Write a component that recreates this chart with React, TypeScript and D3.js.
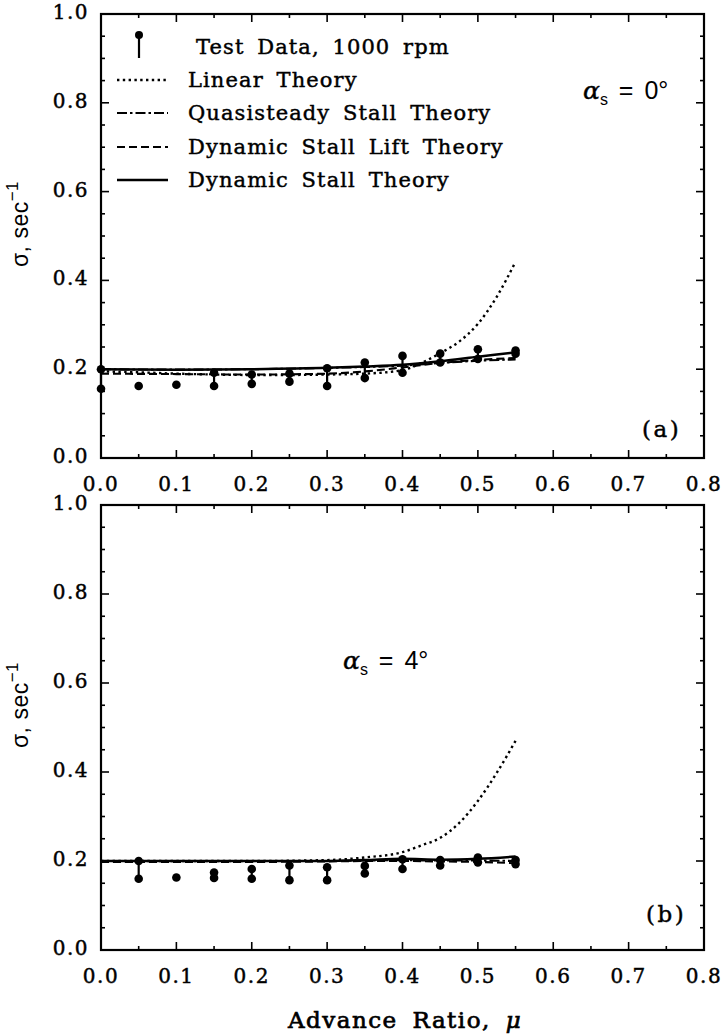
import React from "react";
import * as d3 from "d3";

// ---------- data ----------
const xTicksMajor = [0, 0.1, 0.2, 0.3, 0.4, 0.5, 0.6, 0.7, 0.8];
const yTicksMajor = [0, 0.2, 0.4, 0.6, 0.8, 1.0];

// Panel (a) alpha_s = 0 deg
const muTestA = [0, 0.05, 0.1, 0.15, 0.2, 0.25, 0.3, 0.35, 0.4, 0.45, 0.5, 0.55];
const testHighA = [0.2, 0.162, 0.165, 0.192, 0.188, 0.19, 0.202, 0.215, 0.23, 0.235, 0.245, 0.242];
const testLowA = [0.156, 0.162, 0.165, 0.162, 0.167, 0.172, 0.162, 0.18, 0.192, 0.215, 0.223, 0.235];

const muLinA = [0, 0.05, 0.1, 0.15, 0.2, 0.25, 0.3, 0.35, 0.4, 0.425, 0.45, 0.475, 0.5, 0.525, 0.55];
const linA = [0.195, 0.193, 0.19, 0.188, 0.187, 0.187, 0.188, 0.19, 0.198, 0.214, 0.236, 0.262, 0.302, 0.363, 0.442];
const muThA = [0, 0.1, 0.2, 0.3, 0.35, 0.4, 0.45, 0.5, 0.55];
const quasiA = [0.2, 0.199, 0.2, 0.203, 0.205, 0.208, 0.214, 0.219, 0.222];
const dynLiftA = [0.19, 0.189, 0.188, 0.19, 0.195, 0.204, 0.214, 0.221, 0.225];
const dynStallA = [0.2, 0.199, 0.2, 0.203, 0.206, 0.21, 0.218, 0.228, 0.238];

// Panel (b) alpha_s = 4 deg
const muTestB = [0.05, 0.1, 0.15, 0.2, 0.25, 0.3, 0.35, 0.4, 0.45, 0.5, 0.55];
const testHighB = [0.2, 0.163, 0.174, 0.182, 0.19, 0.186, 0.189, 0.204, 0.202, 0.208, 0.202];
const testLowB = [0.16, 0.163, 0.162, 0.16, 0.157, 0.157, 0.172, 0.182, 0.19, 0.197, 0.193];

const muLinB = [0, 0.1, 0.2, 0.3, 0.35, 0.4, 0.425, 0.45, 0.475, 0.5, 0.525, 0.55];
const linB = [0.2, 0.2, 0.2, 0.202, 0.208, 0.22, 0.235, 0.252, 0.285, 0.335, 0.398, 0.47];
const muThB = [0, 0.1, 0.2, 0.3, 0.35, 0.4, 0.45, 0.5, 0.55];
const quasiB = [0.2, 0.2, 0.2, 0.2, 0.201, 0.202, 0.201, 0.201, 0.2];
const dynLiftB = [0.198, 0.198, 0.198, 0.199, 0.2, 0.2, 0.199, 0.198, 0.195];
const dynStallB = [0.2, 0.2, 0.2, 0.2, 0.202, 0.205, 0.203, 0.205, 0.21];

const legendLabels = [
  "Test Data, 1000 rpm",
  "Linear Theory",
  "Quasisteady Stall Theory",
  "Dynamic Stall Lift Theory",
  "Dynamic Stall Theory",
];

// ---------- styles ----------
const SERIF = "'DejaVu Serif', serif";
const SANS = "'Liberation Sans', Arial, sans-serif";
const STYLES = {
  linear: { dash: "2.4,3.4", width: 2.4 },
  quasi: { dash: "10,3,2.5,3", width: 2.1 },
  dynLift: { dash: "8,4", width: 2.1 },
  dynStall: { dash: null as string | null, width: 2.5 },
};
const heavy = { stroke: "#000", strokeWidth: 0.45 };

const X0 = 101;
const X1 = 704;

function Panel({
  top, bottom, muTest, hi, lo, series, alphaLabel, alphaPos, tag, yTitleCenter,
}: any) {
  const x = d3.scaleLinear().domain([0, 0.8]).range([X0, X1]);
  const y = d3.scaleLinear().domain([0, 1]).range([bottom, top]);
  const minorX = d3.range(0, 0.801, 0.05);
  const minorY = d3.range(0, 1.001, 0.05);
  const isMajX = (v: number) => Math.abs(v * 10 - Math.round(v * 10)) < 1e-6;
  const isMajY = (v: number) => Math.abs(v * 5 - Math.round(v * 5)) < 1e-6;
  const line = d3
    .line<[number, number]>()
    .x((d) => x(d[0]))
    .y((d) => y(d[1]))
    .curve(d3.curveMonotoneX);
  return (
    <g>
      {series.map((s: any, i: number) => (
        <path
          key={i}
          d={line(s.mu.map((m: number, j: number) => [m, s.v[j]]) as any) || ""}
          fill="none"
          stroke="#000"
          strokeWidth={s.style.width}
          strokeDasharray={s.style.dash || undefined}
        />
      ))}
      {muTest.map((m: number, i: number) => (
        <g key={"t" + i}>
          {hi[i] !== lo[i] && (
            <line x1={x(m)} x2={x(m)} y1={y(hi[i])} y2={y(lo[i])} stroke="#000" strokeWidth={2.2} />
          )}
          <circle cx={x(m)} cy={y(hi[i])} r={4.3} fill="#000" />
          {hi[i] !== lo[i] && <circle cx={x(m)} cy={y(lo[i])} r={4.3} fill="#000" />}
        </g>
      ))}
      <rect x={X0} y={top} width={X1 - X0} height={bottom - top} fill="none" stroke="#000" strokeWidth={2.2} />
      {minorX.map((v, i) => {
        const len = isMajX(v) ? 8 : 4;
        return (
          <g key={"xt" + i}>
            <line x1={x(v)} x2={x(v)} y1={bottom} y2={bottom - len} stroke="#000" strokeWidth={1.6} />
            <line x1={x(v)} x2={x(v)} y1={top} y2={top + len} stroke="#000" strokeWidth={1.6} />
          </g>
        );
      })}
      {minorY.map((v, i) => {
        const len = isMajY(v) ? 8 : 4;
        return (
          <g key={"yt" + i}>
            <line x1={X0} x2={X0 + len} y1={y(v)} y2={y(v)} stroke="#000" strokeWidth={1.6} />
            <line x1={X1} x2={X1 - len} y1={y(v)} y2={y(v)} stroke="#000" strokeWidth={1.6} />
          </g>
        );
      })}
      {xTicksMajor.map((v, i) => (
        <text key={"xl" + i} x={x(v)} y={bottom + 33} textAnchor="middle" fontFamily={SERIF} fontSize={20} letterSpacing={1.5} {...heavy}>
          {v.toFixed(1)}
        </text>
      ))}
      {yTicksMajor.map((v, i) => (
        <text key={"yl" + i} x={89} y={y(v) + 5} textAnchor="end" fontFamily={SERIF} fontSize={20} letterSpacing={1.5} {...heavy}>
          {v.toFixed(1)}
        </text>
      ))}
      <text
        transform={`translate(28, ${yTitleCenter}) rotate(-90)`}
        textAnchor="middle"
        fontFamily={SANS}
        fontSize={23}
        letterSpacing={0.5}
      >
        σ, sec
        <tspan dy={-10} fontSize={17}>−1</tspan>
      </text>
      <text x={alphaPos[0]} y={alphaPos[1]} fontFamily={SERIF} fontSize={25}>
        <tspan fontStyle="italic" {...heavy}>α</tspan>
        <tspan dy={6} fontSize={16} fontFamily={SANS}>s</tspan>
        <tspan dy={-6} fontFamily={SANS} fontSize={25} wordSpacing={4}> = {alphaLabel}°</tspan>
      </text>
      <text x={tag.x} y={tag.y} fontFamily={SERIF} fontSize={23} letterSpacing={2.5} {...heavy}>
        {tag.label}
      </text>
    </g>
  );
}

export default function App() {
  const seriesA = [
    { mu: muLinA, v: linA, style: STYLES.linear },
    { mu: muThA, v: quasiA, style: STYLES.quasi },
    { mu: muThA, v: dynLiftA, style: STYLES.dynLift },
    { mu: muThA, v: dynStallA, style: STYLES.dynStall },
  ];
  const seriesB = [
    { mu: muLinB, v: linB, style: STYLES.linear },
    { mu: muThB, v: quasiB, style: STYLES.quasi },
    { mu: muThB, v: dynLiftB, style: STYLES.dynLift },
    { mu: muThB, v: dynStallB, style: STYLES.dynStall },
  ];
  const legendStyles = [null, STYLES.linear, STYLES.quasi, STYLES.dynLift, STYLES.dynStall];
  const legendY = [54, 87, 120, 154, 187];
  return (
    <svg
      width={727}
      height={1034}
      viewBox="0 0 727 1034"
      style={{ position: "absolute", left: 0, top: 0, background: "#fff" }}
    >
      <rect x={0} y={0} width={727} height={1034} fill="#fff" />
      <Panel
        top={14}
        bottom={458}
        muTest={muTestA}
        hi={testHighA}
        lo={testLowA}
        series={seriesA}
        alphaLabel="0"
        alphaPos={[583, 99]}
        tag={{ x: 642, y: 437, label: "(a)" }}
        yTitleCenter={224}
      />
      <Panel
        top={505}
        bottom={950}
        muTest={muTestB}
        hi={testHighB}
        lo={testLowB}
        series={seriesB}
        alphaLabel="4"
        alphaPos={[343, 669]}
        tag={{ x: 646, y: 922, label: "(b)" }}
        yTitleCenter={705}
      />
      {legendLabels.map((lab, i) => {
        const st = legendStyles[i];
        const ly = legendY[i];
        return (
          <g key={"lg" + i}>
            {st ? (
              <line
                x1={117}
                x2={168}
                y1={ly - 7}
                y2={ly - 7}
                stroke="#000"
                strokeWidth={st.width}
                strokeDasharray={st.dash || undefined}
              />
            ) : (
              <g>
                <line x1={139} x2={139} y1={35} y2={58} stroke="#000" strokeWidth={2.2} />
                <circle cx={139} cy={35} r={4} fill="#000" />
              </g>
            )}
            <text
              x={i === 0 ? 196 : 188}
              y={ly}
              fontFamily={SERIF}
              fontSize={21}
              letterSpacing={1.1}
              wordSpacing={5}
              {...heavy}
            >
              {lab}
            </text>
          </g>
        );
      })}
      <text
        x={405}
        y={1028}
        textAnchor="middle"
        fontFamily={SERIF}
        fontSize={23}
        letterSpacing={1.5}
        wordSpacing={6}
        stroke="#000"
        strokeWidth={0.7}
      >
        Advance Ratio,{" "}
        <tspan fontStyle="italic">μ</tspan>
      </text>
    </svg>
  );
}
